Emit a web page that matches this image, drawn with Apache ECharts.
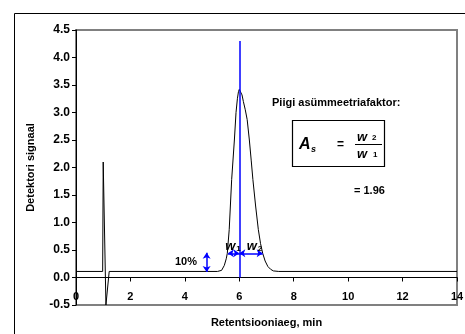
<!DOCTYPE html>
<html>
<head>
<meta charset="utf-8">
<script src="https://cdn.jsdelivr.net/npm/echarts@6/dist/echarts.min.js"></script>
<style>
  html, body { margin: 0; padding: 0; background: #fff; }
  #chart { width: 465px; height: 334px; }
</style>
</head>
<body>
<div id="chart"></div>
<script>
// kromatogramm: aeg (min) ja detektori signaal
const timeMin = [0, 0.98, 1.0, 1.1, 1.22, 5.2, 5.35, 5.45, 5.52, 5.56, 5.63, 5.72, 5.82, 5.88, 5.93, 5.97, 6.0,
  6.05, 6.1, 6.15, 6.22, 6.29, 6.37, 6.44, 6.5, 6.6, 6.7, 6.78, 6.86, 6.95, 7.05, 7.15, 7.25, 7.45, 14]
const signal = [0.11, 0.11, 2.1, -0.5, 0.11, 0.11, 0.13, 0.22, 0.34, 0.44, 0.87, 1.78, 2.5, 3.0, 3.25, 3.38, 3.42,
  3.39, 3.32, 3.2, 3.05, 2.87, 2.5, 2.12, 1.78, 1.3, 0.87, 0.62, 0.44, 0.3, 0.2, 0.15, 0.12, 0.11, 0.11]

// annotatsioonid (andmeteljel)
const peakTime = 6.0
const peakLineTop = 4.3
const baseLevel = 0.1
const tenPctLevel = 0.45
const tenPctTime = 4.8
const widthLevel = 0.44
const w1Start = 5.58
const w2End = 6.86

const yMin = -0.5
const yMax = 4.5
const font = 'Liberation Sans, Arial, sans-serif'
const blue = '#0000ff'

const gridTop = 30
const gridBottom = 29
const plotHeight = 334 - gridTop - gridBottom
// x-telg käib läbi nulli, sildid selle all
const xAxisOffset = -plotHeight * (0 - yMin) / (yMax - yMin)

const chart = echarts.init(document.getElementById('chart'))

const option = {
  animation: false,
  backgroundColor: '#fff',
  grid: {
    left: 76, right: 8, top: gridTop, bottom: gridBottom,
    outerBoundsMode: 'none',
    containLabel: false,
    show: true,
    borderColor: '#808080',
    borderWidth: 2,
    backgroundColor: 'transparent'
  },
  xAxis: {
    type: 'value',
    min: 0, max: 14, interval: 2,
    position: 'bottom',
    offset: xAxisOffset,
    name: 'Retentsiooniaeg, min',
    nameLocation: 'middle',
    nameGap: 40,
    nameTextStyle: { fontFamily: font, fontWeight: 'bold', fontSize: 11, color: '#000' },
    axisLine: { onZero: false, lineStyle: { color: '#000', width: 1 } },
    axisTick: { inside: false, length: 4, lineStyle: { color: '#000' } },
    axisLabel: { fontFamily: font, fontWeight: 'bold', fontSize: 11, color: '#000', margin: 14 },
    splitLine: { show: false }
  },
  yAxis: {
    type: 'value',
    min: yMin, max: yMax, interval: 0.5,
    name: 'Detektori signaal',
    nameLocation: 'middle',
    nameGap: 40,
    nameTextStyle: { fontFamily: font, fontWeight: 'bold', fontSize: 11, color: '#000' },
    axisLine: { show: true, onZero: false, lineStyle: { color: '#000', width: 1 } },
    axisTick: { show: true, inside: false, length: 4, lineStyle: { color: '#000' } },
    axisLabel: {
      fontFamily: font, fontWeight: 'bold', fontSize: 12, color: '#000', margin: 6,
      formatter: v => v.toFixed(1)
    },
    splitLine: { show: false }
  },
  series: [
    {
      type: 'line',
      data: timeMin.map((t, i) => [t, signal[i]]),
      showSymbol: false,
      lineStyle: { color: '#000', width: 1 },
      clip: true,
      z: 3,
      markLine: {
        silent: true,
        symbol: 'none',
        label: { show: false },
        lineStyle: { color: blue, width: 1.5, type: 'solid' },
        data: [
          [{ coord: [peakTime, 0] }, { coord: [peakTime, peakLineTop] }],
          [{ coord: [tenPctTime, baseLevel], symbol: 'arrow' }, { coord: [tenPctTime, tenPctLevel], symbol: 'arrow' }],
          [{ coord: [w1Start, widthLevel], symbol: 'arrow' }, { coord: [peakTime, widthLevel], symbol: 'arrow' }],
          [{ coord: [peakTime, widthLevel], symbol: 'arrow' }, { coord: [w2End, widthLevel], symbol: 'arrow' }]
        ],
        symbolSize: 6
      },
      markPoint: {
        silent: true,
        symbol: 'circle',
        symbolSize: 0,
        label: {
          show: true,
          position: 'inside',
          color: '#000',
          fontFamily: font,
          fontWeight: 'bold',
          fontSize: 11,
          rich: {
            w: { fontFamily: font, fontWeight: 'bold', fontStyle: 'italic', fontSize: 13, color: '#000' },
            s: { fontFamily: font, fontWeight: 'bold', fontSize: 8, color: '#000', padding: [5, 0, 0, 1] }
          }
        },
        data: [
          { coord: [4.04, 0.28], label: { formatter: '10%' } },
          { coord: [5.77, 0.57], label: { formatter: '{w|w}{s|1}' } },
          { coord: [6.56, 0.57], label: { formatter: '{w|w}{s|2}' } }
        ]
      }
    }
  ],
  graphic: [
    // välimine raam
    { type: 'rect', shape: { x: 14.5, y: 13.5, width: 460, height: 330 },
      style: { fill: null, stroke: '#000', lineWidth: 1 }, silent: true },
    { type: 'text', left: 272, top: 97,
      style: { text: 'Piigi asümmeetriafaktor:', font: 'bold 11px ' + font, fill: '#000' } },
    { type: 'rect', shape: { x: 292.5, y: 120.5, width: 92, height: 46 },
      style: { fill: null, stroke: '#000', lineWidth: 1.2 } },
    { type: 'text', x: 299, y: 137,
      style: { text: 'A', font: 'italic bold 16px ' + font, fill: '#000' } },
    { type: 'text', x: 311, y: 145,
      style: { text: 's', font: 'italic bold 9px ' + font, fill: '#000' } },
    { type: 'text', x: 337, y: 139,
      style: { text: '=', font: 'bold 12px ' + font, fill: '#000' } },
    { type: 'text', x: 357, y: 131,
      style: { text: 'w', font: 'italic bold 13px ' + font, fill: '#000' } },
    { type: 'text', x: 372, y: 134,
      style: { text: '2', font: 'bold 8px ' + font, fill: '#000' } },
    { type: 'line', shape: { x1: 355, y1: 144.5, x2: 382, y2: 144.5 },
      style: { stroke: '#000', lineWidth: 1 } },
    { type: 'text', x: 357, y: 148,
      style: { text: 'w', font: 'italic bold 13px ' + font, fill: '#000' } },
    { type: 'text', x: 373, y: 151,
      style: { text: '1', font: 'bold 8px ' + font, fill: '#000' } },
    { type: 'text', x: 354, y: 185,
      style: { text: '= 1.96', font: 'bold 11px ' + font, fill: '#000' } }
  ]
}

chart.setOption(option)
</script>
</body>
</html>
